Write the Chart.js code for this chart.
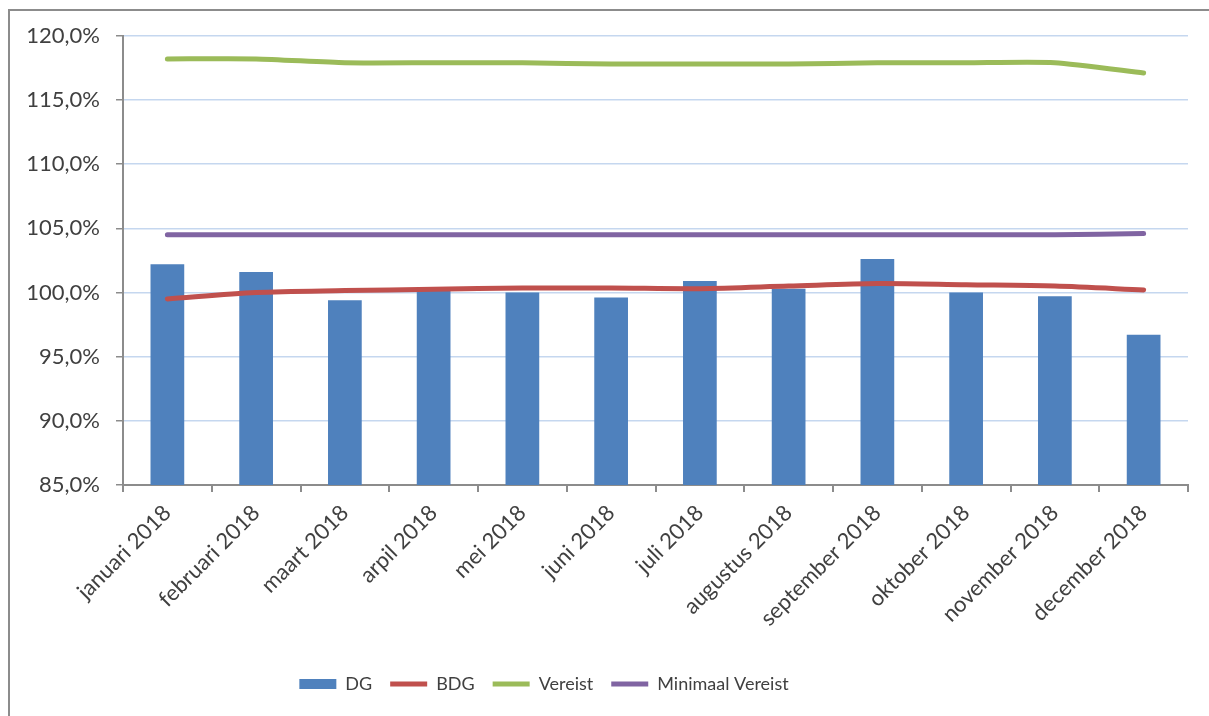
<!DOCTYPE html>
<html>
<head>
<meta charset="utf-8">
<script src="https://cdn.jsdelivr.net/npm/chart.js@4"></script>
<style>
body{margin:0;background:#fff;}
#wrap{position:absolute;left:8px;top:9px;width:1199px;height:705px;border-left:2px solid #8c8c8c;border-top:2px solid #8c8c8c;}
</style>
</head>
<body>
<div id="wrap"><canvas id="myChart" width="1199" height="705"></canvas></div>
<script>
let months = ['januari 2018','februari 2018','maart 2018','arpil 2018','mei 2018','juni 2018','juli 2018','augustus 2018','september 2018','oktober 2018','november 2018','december 2018']
let dg = [102.2, 101.6, 99.4, 100.2, 100.0, 99.6, 100.9, 100.3, 102.6, 100.0, 99.7, 96.7]
let bdg = [99.5, 100.0, 100.15, 100.25, 100.35, 100.35, 100.3, 100.5, 100.7, 100.6, 100.5, 100.2]
let vereist = [118.2, 118.2, 117.9, 117.9, 117.9, 117.8, 117.8, 117.8, 117.9, 117.9, 117.9, 117.1]
let minimaal = [104.5, 104.5, 104.5, 104.5, 104.5, 104.5, 104.5, 104.5, 104.5, 104.5, 104.5, 104.6]
let yMin = 85, yMax = 120, yStep = 5

let txt = '#404040'
let axisGray = '#8c8c8c'
let font = "Lato"

// legend in the original sits a bit left of centre
let legendShift = {
    id: 'legendShift',
    afterLayout(chart){
        chart.legend.left -= 55
        chart.legend.right -= 55
    }
}

let chartObject = new Chart($id('myChart'), {
    type: 'bar',
    data: {
        labels: months,
        datasets: [
            {label:'DG', data: dg, backgroundColor:'#4f81bd', borderColor:'#4f81bd', borderWidth:0, barPercentage:0.76, categoryPercentage:0.5, order:5, pointStyle:'rect'},
            {type:'line', label:'BDG', data: bdg, borderColor:'#c0504d', backgroundColor:'#c0504d', borderWidth:5, borderCapStyle:'round', pointRadius:0, tension:0.3, order:1, pointStyle:'line'},
            {type:'line', label:'Vereist', data: vereist, borderColor:'#9bbb59', backgroundColor:'#9bbb59', borderWidth:5, borderCapStyle:'round', pointRadius:0, tension:0.2, order:1, pointStyle:'line'},
            {type:'line', label:'Minimaal Vereist', data: minimaal, borderColor:'#8064a2', backgroundColor:'#8064a2', borderWidth:5, borderCapStyle:'round', pointRadius:0, tension:0.2, order:1, pointStyle:'line'}
        ]
    },
    options: {
        responsive: false,
        animation: false,
        layout: {padding: {left: 0, right: 21, top: 14, bottom: 13}},
        plugins: {
            tooltip: {enabled: false},
            legend: {
                position: 'bottom',
                labels: {
                    usePointStyle: true,
                    pointStyleWidth: 37,
                    boxHeight: 10,
                    color: txt,
                    padding: 18,
                    font: {family: font, size: 18},
                    sort: (a, b) => a.datasetIndex - b.datasetIndex
                }
            }
        },
        scales: {
            x: {
                grid: {drawOnChartArea: false, drawTicks: true, tickLength: 7, tickColor: axisGray, offset: true, lineWidth: 2},
                border: {color: axisGray, width: 2},
                ticks: {color: txt, minRotation: 45, maxRotation: 45, padding: 8, font: {family: font, size: 22}},
                afterFit: s => { s.height = 172 }
            },
            y: {
                min: yMin, max: yMax,
                grid: {color: '#c5d7ef', lineWidth: 1.5, tickLength: 7, tickColor: axisGray},
                border: {color: axisGray, width: 2},
                ticks: {stepSize: yStep, color: txt, padding: 16, font: {family: font, size: 22, lineHeight: 0.8},
                    callback: v => v.toFixed(1).replace('.', ',') + '%'},
                afterFit: s => { s.width = 113 }
            }
        }
    },
    plugins: [legendShift]
})

function $id(id){ return document.getElementById(id) }
</script>
</body>
</html>
